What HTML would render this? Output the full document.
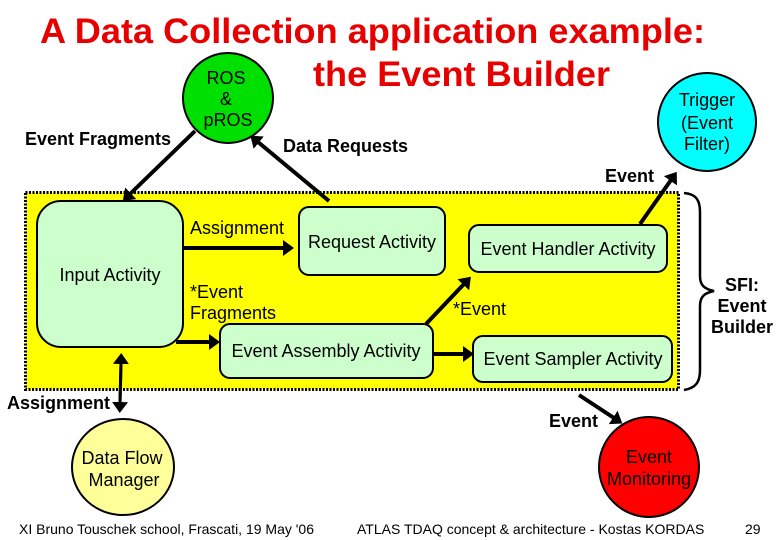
<!DOCTYPE html>
<html><head><meta charset="utf-8">
<style>
html,body{margin:0;padding:0;background:#fff;width:780px;height:540px;overflow:hidden}
svg{display:block}
text{font-family:"Liberation Sans",sans-serif;fill:#000}
.b{font-weight:bold}
.t{font-weight:bold;fill:#e60000;font-size:35px}
</style></head><body>
<svg width="780" height="540" viewBox="0 0 780 540" xmlns="http://www.w3.org/2000/svg">
<defs>
<marker id="a" markerUnits="userSpaceOnUse" markerWidth="14" markerHeight="18" refX="1" refY="8" orient="auto"><path d="M0 0L11 8L0 16Z" fill="#000"/></marker>
</defs>
<text class="t" x="40" y="43" textLength="665" lengthAdjust="spacingAndGlyphs">A Data Collection application example:</text>
<text class="t" x="313" y="86" textLength="297" lengthAdjust="spacingAndGlyphs">the Event Builder</text>

<rect x="25.500" y="192.500" width="653" height="197" fill="#ffff00" stroke="#000" stroke-width="3" stroke-dasharray="2 1.500"/>

<circle cx="228" cy="98" r="45" fill="#00e000" stroke="#000" stroke-width="2"/>
<circle cx="707" cy="122" r="49" fill="#00ffff" stroke="#000" stroke-width="2"/>
<ellipse cx="123" cy="467" rx="51" ry="48" fill="#ffff99" stroke="#000" stroke-width="2"/>
<circle cx="649" cy="467" r="50" fill="#ff0000" stroke="#000" stroke-width="2"/>

<rect x="37" y="201" width="146" height="146" rx="24" fill="#ccffcc" stroke="#000" stroke-width="2"/>
<rect x="299" y="207" width="146" height="68" rx="10" fill="#ccffcc" stroke="#000" stroke-width="2"/>
<rect x="220" y="324" width="213" height="54" rx="10" fill="#ccffcc" stroke="#000" stroke-width="2"/>
<rect x="469" y="225" width="198" height="47" rx="10" fill="#ccffcc" stroke="#000" stroke-width="2"/>
<rect x="473" y="336" width="199" height="46" rx="10" fill="#ccffcc" stroke="#000" stroke-width="2"/>

<g stroke="#000" stroke-width="4" fill="none">
<line x1="195" y1="131" x2="130" y2="194" marker-end="url(#a)"/>
<line x1="329" y1="201" x2="258" y2="142" marker-end="url(#a)"/>
<line x1="183" y1="248" x2="284" y2="248" marker-end="url(#a)"/>
<line x1="176" y1="342" x2="210" y2="342" marker-end="url(#a)"/>
<line x1="426" y1="324" x2="464" y2="284" marker-end="url(#a)"/>
<line x1="433" y1="354" x2="464" y2="354" marker-end="url(#a)"/>
<line x1="640" y1="224" x2="671" y2="180" marker-end="url(#a)"/>
<line x1="579" y1="395" x2="614" y2="418" marker-end="url(#a)"/>
<line x1="121" y1="363" x2="120" y2="403" stroke-width="3" marker-end="url(#a)"/>
<line x1="120" y1="403" x2="121" y2="363" stroke-width="3" marker-end="url(#a)"/>
<path stroke-width="2.500" d="M684 193C696 194 700 200 700 212V276C700 285 704 289 714 291C704 293 700 297 700 306V370C700 382 696 388 684 390"/>
</g>

<g font-size="18" text-anchor="middle">
<text x="226" y="84">ROS</text>
<text x="226" y="105">&amp;</text>
<text x="228" y="126">pROS</text>
<text x="707" y="106">Trigger</text>
<text x="707" y="129">(Event</text>
<text x="707" y="150">Filter)</text>
<text x="110" y="281">Input Activity</text>
<text x="372" y="248">Request Activity</text>
<text x="326" y="357">Event Assembly Activity</text>
<text x="568" y="255">Event Handler Activity</text>
<text x="573" y="365">Event Sampler Activity</text>
<text x="122" y="464">Data Flow</text>
<text x="124" y="486">Manager</text>
<text x="649" y="463">Event</text>
<text x="649" y="485">Monitoring</text>
</g>
<g font-size="18">
<text x="190" y="234">Assignment</text>
<text x="190" y="298">*Event</text>
<text x="190" y="319">Fragments</text>
<text x="453" y="315">*Event</text>
</g>
<g font-size="18">
<text class="b" x="25" y="145">Event Fragments</text>
<text class="b" x="283" y="152">Data Requests</text>
<text class="b" x="605" y="182">Event</text>
<text class="b" x="7" y="409">Assignment</text>
<text class="b" x="549" y="427">Event</text>
<text class="b" x="742" y="291" text-anchor="middle">SFI:</text>
<text class="b" x="742" y="312" text-anchor="middle">Event</text>
<text class="b" x="742" y="333" text-anchor="middle">Builder</text>
</g>
<g font-size="14">
<text x="19" y="534">XI Bruno Touschek school, Frascati, 19 May '06</text>
<text x="357" y="534">ATLAS TDAQ concept &amp; architecture - Kostas KORDAS</text>
<text x="745" y="534">29</text>
</g>
</svg>
</body></html>
